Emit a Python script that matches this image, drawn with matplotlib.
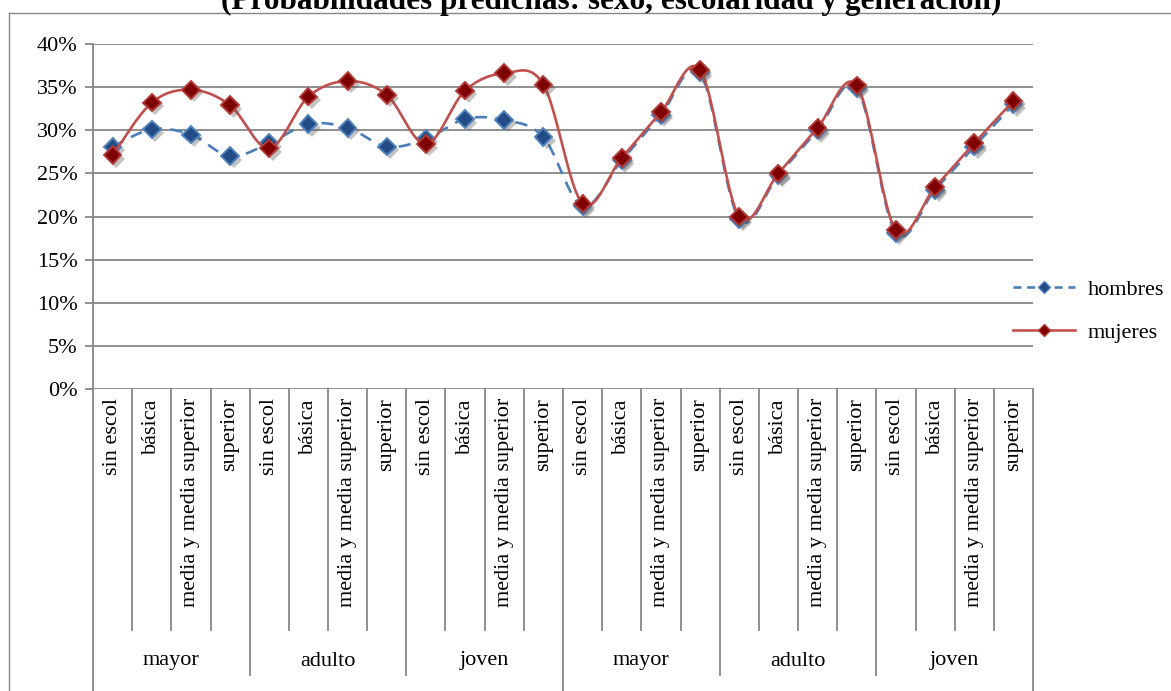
import numpy as np
import matplotlib.pyplot as plt
import matplotlib.patheffects as pe
import matplotlib.transforms as mtransforms
from matplotlib.lines import Line2D
from matplotlib.ticker import MultipleLocator, PercentFormatter

plt.rcParams['font.family'] = ['Liberation Serif', 'DejaVu Serif']

titulo = '(Probabilidades predichas: sexo, escolaridad y generación)'
generaciones = ['mayor', 'adulto', 'joven', 'mayor', 'adulto', 'joven']
escolaridad = ['sin escol', 'básica', 'media y media superior', 'superior']
series = ['hombres', 'mujeres']

# probabilidades predichas (%)
hombres = [28.1, 30.1, 29.5, 27.0,
           28.5, 30.7, 30.3, 28.1,
           29.0, 31.3, 31.2, 29.2,
           21.2, 26.5, 31.8, 36.7,
           19.7, 24.8, 30.0, 34.9,
           18.1, 23.1, 28.1, 33.0]
mujeres = [27.1, 33.2, 34.7, 32.9,
           27.9, 33.9, 35.7, 34.1,
           28.4, 34.6, 36.6, 35.3,
           21.5, 26.8, 32.1, 37.0,
           20.0, 25.0, 30.3, 35.2,
           18.4, 23.4, 28.5, 33.4]

W, H = 1171, 691


def fy(py):
    return 1 - py / H


def curva(x, y, n=24):
    # linea suavizada tipo Excel (Bezier con tangentes de Catmull-Rom)
    x = np.asarray(x, float)
    y = np.asarray(y, float)
    px = np.concatenate([[x[0]], x, [x[-1]]])
    py = np.concatenate([[y[0]], y, [y[-1]]])
    p1x, p2x = px[1:-2], px[2:-1]
    p1y, p2y = py[1:-2], py[2:-1]
    c1x = p1x + (px[2:-1] - px[:-3]) / 6
    c1y = p1y + (py[2:-1] - py[:-3]) / 6
    c2x = p2x - (px[3:] - px[1:-2]) / 6
    c2y = p2y - (py[3:] - py[1:-2]) / 6
    t = np.linspace(0, 1, n)[:, None]
    bx = (1 - t)**3 * p1x + 3 * (1 - t)**2 * t * c1x + 3 * (1 - t) * t**2 * c2x + t**3 * p2x
    by = (1 - t)**3 * p1y + 3 * (1 - t)**2 * t * c1y + 3 * (1 - t) * t**2 * c2y + t**3 * p2y
    return bx.T.ravel(), by.T.ravel()


fig = plt.figure(figsize=(W / 100, H / 100), dpi=100)
ax = fig.add_axes([93 / W, fy(389), 940 / W, 345 / H])

x = np.arange(len(hombres))
gris = '#878787'
sombra = [pe.SimplePatchShadow(offset=(2.5, -2.5), shadow_rgbFace='#555555', alpha=0.35), pe.Normal()]

azul_l, azul_f, azul_e = '#4A7EBB', '#234C86', '#4F81BD'
rojo_l, rojo_f, rojo_e = '#C0504D', '#7F0000', '#B23A37'

sx, sy = curva(x, hombres)
ax.plot(sx, sy, color=azul_l, lw=1.9, dashes=(4.6, 3.2), zorder=3)
ax.plot(x, hombres, ls='none', marker='D', ms=9, mfc=azul_f, mec=azul_e,
        mew=1.4, zorder=4, path_effects=sombra)

sx, sy = curva(x, mujeres)
ax.plot(sx, sy, color=rojo_l, lw=1.9, zorder=5)
ax.plot(x, mujeres, ls='none', marker='D', ms=9, mfc=rojo_f, mec=rojo_e,
        mew=1.4, zorder=6, path_effects=sombra)

ax.set_xlim(-0.5, len(hombres) - 0.5)
ax.set_ylim(0, 40)
ax.yaxis.set_major_locator(MultipleLocator(5))
ax.yaxis.set_major_formatter(PercentFormatter(decimals=0))
ax.grid(axis='y', color=gris, lw=1.3)
ax.set_axisbelow(True)
ax.set_xticks([])
ax.tick_params(axis='y', length=6, width=1.3, color=gris, pad=5, labelsize=16)
for s in ['top', 'right', 'bottom']:
    ax.spines[s].set_visible(False)
ax.spines['left'].set_color(gris)
ax.spines['left'].set_linewidth(1.3)

# ejes de categorias en varios niveles
trans = mtransforms.blended_transform_factory(ax.transData, fig.transFigure)
for i in x:
    ax.text(i, fy(398), escolaridad[i % 4], rotation=90, ha='center', va='top',
            fontsize=16, transform=trans)
for g, nombre in enumerate(generaciones):
    ax.text(g * 4 + 1.5, fy(661), nombre, ha='center', va='center',
            fontsize=16, transform=trans)
for b in range(len(hombres) + 1):
    fondo = 630
    if b % 4 == 0:
        fondo = 675
    if b % 12 == 0:
        fondo = H
    ax.add_line(Line2D([b - 0.5, b - 0.5], [fy(389), fy(fondo)], transform=trans,
                       color=gris, lw=1.3, clip_on=False))

# marco del grafico
fig.add_artist(Line2D([9 / W, 9 / W], [0, fy(12.5)], transform=fig.transFigure, color=gris, lw=1))
fig.add_artist(Line2D([9 / W, 1], [fy(12.5), fy(12.5)], transform=fig.transFigure, color=gris, lw=1))

fig.text(611 / W, fy(9), titulo, ha='center', va='baseline', fontsize=22.5, fontweight='bold')

handles = [
    Line2D([], [], color=azul_l, lw=1.9, dashes=(3, 2.2), marker='D', ms=6,
           mfc=azul_f, mec=azul_e),
    Line2D([], [], color=rojo_l, lw=1.9, marker='D', ms=6, mfc=rojo_f, mec=rojo_e),
]
fig.legend(handles, series, loc='center left', bbox_to_anchor=(1013 / W, fy(311)),
           frameon=False, borderpad=0, borderaxespad=0, handlelength=2.8,
           handletextpad=0.55, labelspacing=1.0, fontsize=16)

fig.savefig('out.png', dpi=100)
